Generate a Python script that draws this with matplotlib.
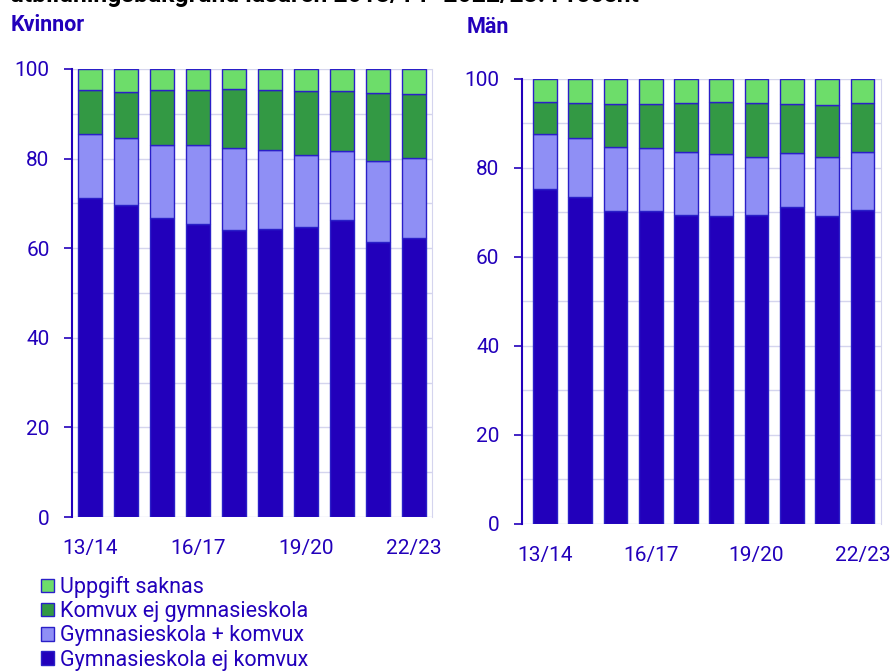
import matplotlib
matplotlib.use("Agg")
import matplotlib.pyplot as plt
from matplotlib.patches import Patch
import numpy as np

plt.rcParams['font.family'] = ['Roboto', 'DejaVu Sans']

years = ["13/14", "14/15", "15/16", "16/17", "17/18", "18/19", "19/20", "20/21", "21/22", "22/23"]
series_names = ["Gymnasieskola ej komvux", "Gymnasieskola + komvux", "Komvux ej gymnasieskola", "Uppgift saknas"]

# Women (Kvinnor)
k_gym_ej = [71.1, 69.6, 66.7, 65.4, 64.1, 64.3, 64.7, 66.4, 61.4, 62.2]
k_gym_komvux = [14.4, 15.0, 16.4, 17.6, 18.2, 17.6, 16.2, 15.2, 18.0, 17.9]
k_komvux_ej = [9.7, 10.3, 12.1, 12.3, 13.3, 13.4, 14.2, 13.5, 15.3, 14.4]
k_saknas = [4.8, 5.1, 4.8, 4.7, 4.4, 4.7, 4.9, 4.9, 5.3, 5.5]

# Men (Män)
m_gym_ej = [75.2, 73.5, 70.4, 70.3, 69.4, 69.3, 69.4, 71.3, 69.2, 70.6]
m_gym_komvux = [12.4, 13.2, 14.4, 14.2, 14.3, 13.8, 13.0, 12.0, 13.3, 13.1]
m_komvux_ej = [7.2, 7.9, 9.5, 9.8, 11.0, 11.7, 12.3, 11.1, 11.7, 10.8]
m_saknas = [5.2, 5.4, 5.7, 5.7, 5.3, 5.2, 5.3, 5.6, 5.8, 5.5]

colors = ["#2200bb", "#8f8ff5", "#339944", "#6ddd6a"]
edge = "#2a1fc8"
txt = "#2200bb"
grid_c = "#d4d4ee"
FS = 15

fig = plt.figure(figsize=(8.91, 6.71), dpi=100)

ax1 = fig.add_axes([0.0805, 0.2295, 0.404, 0.6677])
ax2 = fig.add_axes([0.5855, 0.2191, 0.4029, 0.6632])

def draw(ax, data, xlim):
    x = np.arange(len(years))
    bottom = np.zeros(len(years))
    for vals, c, name in zip(data, colors, series_names):
        ax.bar(x, vals, bottom=bottom, width=0.67, color=c, edgecolor=edge, linewidth=1.0, label=name, zorder=3)
        bottom += np.array(vals)
    ax.set_ylim(0, 100)
    ax.set_xlim(*xlim)
    ax.set_yticks([0, 20, 40, 60, 80, 100])
    ax.set_yticks(np.arange(0, 101, 10), minor=True)
    ax.grid(axis='y', which='both', color=grid_c, linewidth=1.0, zorder=0)
    ax.set_xticks([0, 3, 6, 9])
    ax.set_xticklabels([years[i] for i in [0, 3, 6, 9]])
    for s in ['top', 'bottom']:
        ax.spines[s].set_visible(False)
    ax.spines['right'].set_color(grid_c)
    ax.spines['left'].set_color(txt)
    ax.spines['left'].set_linewidth(1.5)
    ax.tick_params(axis='y', which='major', colors=txt, labelsize=FS, length=6, width=1.2, pad=10)
    ax.tick_params(axis='y', which='minor', length=0)
    ax.tick_params(axis='x', colors=txt, labelsize=FS, length=0, pad=16)

draw(ax1, [k_gym_ej, k_gym_komvux, k_komvux_ej, k_saknas], (-0.52, 9.5))
draw(ax2, [m_gym_ej, m_gym_komvux, m_komvux_ej, m_saknas], (-0.66, 9.52))

fig.text(11/891, 1 - 31/671, "Kvinnor", color=txt, fontsize=15.5, fontweight='bold', va='baseline')
fig.text(467/891, 1 - 33/671, "Män", color=txt, fontsize=15.5, fontweight='bold', va='baseline')
fig.text(10/891, 1 - 2/671, "utbildningsbakgrund läsåren 2013/14–2022/23. Procent", color='black',
         fontsize=17.8, fontweight='bold', va='baseline')

handles = [Patch(facecolor=c, edgecolor=edge, linewidth=1.0, label=n) for c, n in zip(colors, series_names)]
handles = handles[::-1]
leg = fig.legend(handles=handles, loc='upper left', bbox_to_anchor=(41/891, 1 - 576/671), frameon=False,
                 fontsize=15.5, handlelength=0.6, handleheight=0.6, handletextpad=0.3, labelspacing=0.15,
                 borderpad=0, borderaxespad=0)
for t in leg.get_texts():
    t.set_color(txt)

fig.savefig("out.png", dpi=100)
